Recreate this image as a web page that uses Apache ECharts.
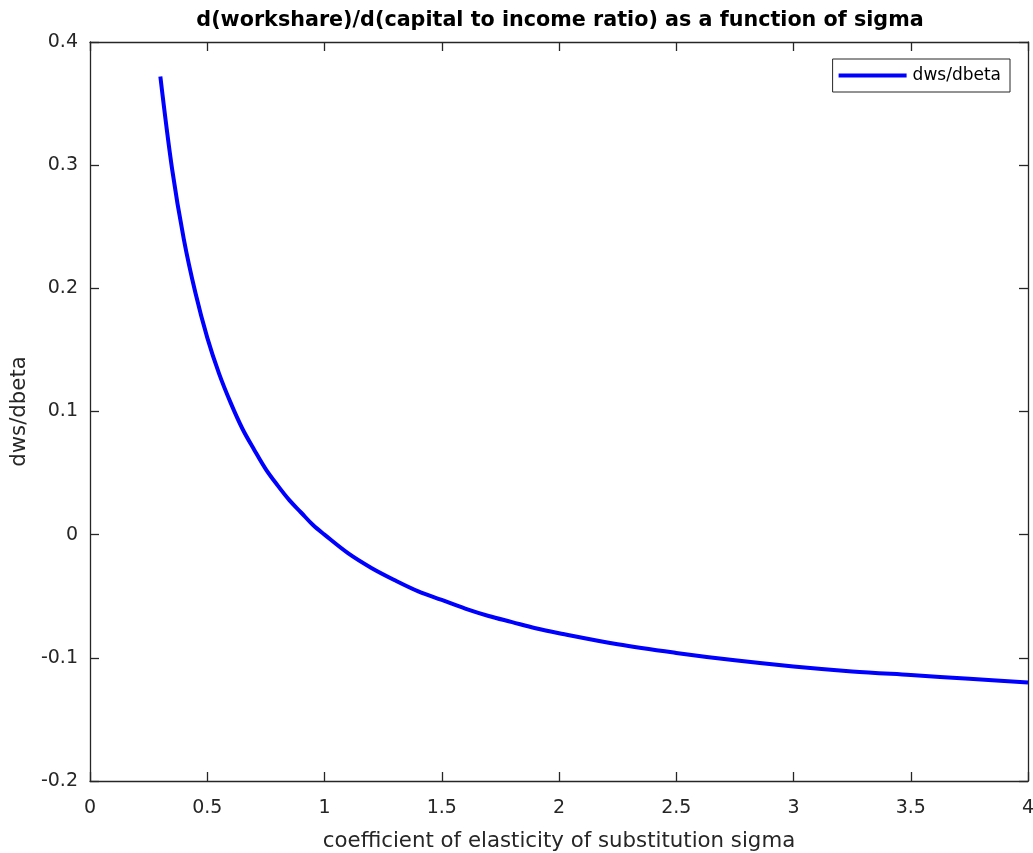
<!DOCTYPE html>
<html>
<head>
<meta charset="utf-8">
<script src="https://cdn.jsdelivr.net/npm/echarts@6/dist/echarts.min.js"></script>
<style>html,body{margin:0;padding:0;background:#fff;}#c{width:1033px;height:853px;}</style>
</head>
<body>
<div id="c"></div>
<script>
const sigma = [0.3, 0.35, 0.4, 0.45, 0.5, 0.55, 0.6, 0.65, 0.7, 0.75, 0.8, 0.85, 0.9, 0.95, 1.0, 1.1, 1.2, 1.3, 1.4, 1.5, 1.6, 1.7, 1.8, 1.9, 2.0, 2.25, 2.5, 2.75, 3.0, 3.25, 3.5, 3.75, 4.0];
const dwsdbeta = [0.372, 0.297, 0.240, 0.196, 0.160, 0.131, 0.107, 0.086, 0.069, 0.053, 0.040, 0.028, 0.018, 0.008, 0.000, -0.015, -0.027, -0.037, -0.046, -0.053, -0.060, -0.066, -0.071, -0.076, -0.080, -0.089, -0.096, -0.102, -0.107, -0.111, -0.114, -0.117, -0.120];
const xTicks = {min: 0, max: 4, interval: 0.5};
const yTicks = {min: -0.2, max: 0.4, interval: 0.1};
const titleText = 'd(workshare)/d(capital to income ratio) as a function of sigma';
const xName = 'coefficient of elasticity of substitution sigma';
const yName = 'dws/dbeta';
const seriesName = 'dws/dbeta';

const FONT = '"DejaVu Sans", sans-serif';
const AX = '#262626';
const chart = echarts.init(document.getElementById('c'), null, {renderer: 'canvas'});
const fmt = v => String(+v.toFixed(2));
const baseAxis = {
  axisLine: {show: true, onZero: false, lineStyle: {color: AX, width: 1.3}},
  axisTick: {show: true, inside: true, length: 9, lineStyle: {color: AX, width: 1.3}},
  splitLine: {show: false}
};
chart.setOption({
  animation: false,
  backgroundColor: '#fff',
  title: {
    text: titleText, left: 555, top: 5, textAlign: 'center',
    textStyle: {fontFamily: FONT, fontWeight: 'bold', fontSize: 20.7, color: '#000'}
  },
  legend: {
    data: [{name: seriesName, icon: 'rect'}],
    right: 23, top: 59,
    itemWidth: 68, itemHeight: 4, itemGap: 0,
    padding: [8, 9, 8, 6],
    borderColor: AX, borderWidth: 1, backgroundColor: '#fff',
    textStyle: {fontFamily: FONT, fontSize: 17, color: '#000', padding: [0, 0, 0, 1]}
  },
  grid: {left: 90, right: 5, top: 42, bottom: 72, containLabel: false, outerBoundsMode: 'none'},
  xAxis: [
    Object.assign({}, baseAxis, {
      type: 'value', position: 'bottom', min: xTicks.min, max: xTicks.max, interval: xTicks.interval,
      axisLabel: {formatter: fmt, fontFamily: FONT, fontSize: 19, color: AX, margin: 18},
      name: xName, nameLocation: 'middle', nameGap: 50,
      nameTextStyle: {fontFamily: FONT, fontSize: 21.3, color: AX}
    }),
    Object.assign({}, baseAxis, {
      type: 'value', position: 'top', min: xTicks.min, max: xTicks.max, interval: xTicks.interval,
      axisLabel: {show: false}
    })
  ],
  yAxis: [
    Object.assign({}, baseAxis, {
      type: 'value', position: 'left', min: yTicks.min, max: yTicks.max, interval: yTicks.interval,
      axisLabel: {formatter: fmt, fontFamily: FONT, fontSize: 19, color: AX, margin: 12},
      name: yName, nameLocation: 'middle', nameGap: 60, nameRotate: 90,
      nameTextStyle: {fontFamily: FONT, fontSize: 21.3, color: AX}
    }),
    Object.assign({}, baseAxis, {
      type: 'value', position: 'right', min: yTicks.min, max: yTicks.max, interval: yTicks.interval,
      axisLabel: {show: false}
    })
  ],
  series: [{
    name: seriesName, type: 'line', xAxisIndex: 0, yAxisIndex: 0,
    data: sigma.map((s, i) => [s, dwsdbeta[i]]),
    smooth: 0.35, showSymbol: false, symbol: 'none',
    lineStyle: {color: '#0000ff', width: 4}, itemStyle: {color: '#0000ff'}
  }]
});
</script>
</body>
</html>
